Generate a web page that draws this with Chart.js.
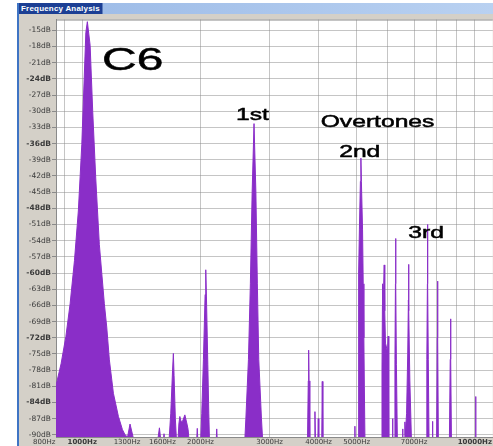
<!DOCTYPE html>
<html>
<head>
<meta charset="utf-8">
<title>Frequency Analysis</title>
<script src="https://cdn.jsdelivr.net/npm/chart.js@4.4.1/dist/chart.umd.min.js"></script>
<style>
    html, body { margin: 0; padding: 0; background: #fff; }
    body { width: 493px; height: 446px; position: relative; overflow: hidden; }
    .frame {
        position: absolute; left: 17px; top: 3px; width: 474px; height: 443px;
        border-left: 2px solid #3f74c4; background: #d4d0c8;
    }
    .titlebar {
        position: absolute; left: 0; top: 0; width: 474px; height: 11px;
        background: linear-gradient(to right, #1c3f94 0px, #1c3f94 83px, #9fbde8 84px, #b9d1f1 100%);
    }
    .titlebar span {
        position: absolute; left: 2px; top: 0px; color: #fff;
        font: bold 8px "Liberation Sans", Arial, sans-serif; letter-spacing: 0.2px; line-height: 11px;
    }
    .chart-box { position: absolute; left: 0; top: 11px; width: 474px; height: 432px; }
</style>
</head>
<body>
<div class="frame">
    <div class="titlebar"><span>Frequency Analysis</span></div>
    <div class="chart-box"><canvas id="spectrum"></canvas></div>
</div>
<script>
// spectrum: frequency (Hz) and level (dB), one group per peak
const freqHz = [
    850, 858, 883, 908, 931, 955, 977, 997, 1011, 1021, 1030, 1047, 1063, 1082, 1105, 1138, 1154, 1172, 1200, 1236, 1265, 1285, 1304, 1323, 1345, 1360,
    1550, 1572, 1590, 1605, 1615, 1625,
    1660, 1680, 1698, 1706, 1713, 1726, 1740,
    1750, 1762, 1772, 1786, 1800, 1825, 1848, 1860, 1875,
    1952, 1963, 1972,
    2000, 2015, 2035, 2055, 2063, 2072, 2088, 2100, 2110,
    2190, 2200, 2210,
    2590, 2610, 2650, 2680, 2708, 2738, 2768, 2792, 2815, 2860, 2885,
    3745, 3764, 3772, 3781, 3798,
    3900, 3914, 3928,
    3978, 3991, 4004,
    4072, 4086, 4100,
    4940, 4948, 4956,
    5040, 5050, 5065, 5080, 5110, 5125, 5140, 5175, 5195, 5215, 5230, 5250,
    5780, 5800, 5815, 5821, 5835, 5855, 5876, 5895, 5920, 5965, 5990, 6015, 6030, 6042,
    6165, 6173, 6181,
    6225, 6258, 6276, 6283, 6291, 6312, 6350,
    6530, 6545, 6560,
    6620, 6634, 6650, 6700, 6745, 6772, 6780, 6790, 6830, 6900,
    7510, 7545, 7570, 7577, 7585, 7610, 7645,
    7790, 7801, 7812,
    7990, 8020, 8035, 8048, 8075,
    8610, 8655, 8673, 8686, 8720,
    10020, 10042, 10065
];
const levelDb = [
    -82, -80.7, -76.8, -71.8, -65.7, -57.7, -48.5, -36.2, -24, -15.4, -13.4, -17.8, -30.1, -42.4, -54.7, -65.7, -70, -76.1, -82.3, -86.6, -89, -90, -90.4, -88, -90.2, -92,
    -92, -88.7, -92, -92, -89.8, -92,
    -92, -86, -78, -74.9, -79, -87, -92,
    -92, -88, -86.6, -87.6, -87.5, -86.3, -88, -89, -92,
    -92, -88.8, -92,
    -92, -86, -76, -64, -59.4, -65, -77, -86, -92,
    -92, -88.9, -92,
    -92, -87, -76, -62, -45, -32.3, -45, -62, -76, -87, -92,
    -92, -80, -74.3, -80, -92,
    -92, -85.7, -92,
    -92, -87, -92,
    -92, -80.1, -92,
    -92, -88.4, -92,
    -92, -80, -60, -52, -43, -38.7, -43, -52, -62, -72, -81, -92,
    -92, -78, -66, -62, -67, -63, -58.5, -67, -73, -74, -75, -71.7, -84, -92,
    -92, -87, -92,
    -92, -76, -62, -53.6, -62, -77, -92,
    -92, -88.9, -92,
    -92, -87.6, -90, -86, -75, -65, -58.4, -67, -80, -92,
    -92, -76, -62, -51, -62, -76, -92,
    -92, -87.5, -92,
    -92, -72, -61.5, -72, -92,
    -92, -76, -68.5, -76, -92,
    -92, -82.9, -92
];

// axis ticks
const yTickDb = [-15, -18, -21, -24, -27, -30, -33, -36, -39, -42, -45, -48, -51, -54, -57, -60, -63, -66, -69, -72, -75, -78, -81, -84, -87, -90];
const xGridHz = [900, 1000, 2000, 3000, 4000, 5000, 6000, 7000, 8000, 9000, 10000];
const xLabelHz = [800, 1000, 1300, 1600, 2000, 3000, 4000, 5000, 7000, 10000];

// text written on the plot, anchored at (Hz, dB)
const noteText = ['C6', '1st', 'Overtones', '2nd', '3rd'];
const noteHz = [1123, 2464, 4048, 4512, 6765];
const noteDb = [-22.4, -31.6, -32.9, -38.4, -53.6];

const purple = 'rgb(138, 46, 200)';
const gridGray = 'rgba(140, 140, 140, 0.5)';

const panelPlugin = {
    id: 'panel',
    beforeDraw(chart) {
        const { ctx, chartArea: a } = chart;
        ctx.save();
        ctx.fillStyle = '#ffffff';
        ctx.fillRect(a.left, a.top, a.right - a.left, a.bottom - a.top);
        ctx.restore();
    },
    afterDraw(chart) {
        const { ctx, chartArea: a } = chart;
        const x = chart.scales.x, y = chart.scales.y;
        ctx.save();
        ctx.strokeStyle = '#8a8a8a';
        ctx.lineWidth = 1;
        ctx.beginPath();
        ctx.moveTo(a.left, a.top + 0.5);
        ctx.lineTo(a.right, a.top + 0.5);
        ctx.stroke();

        // annotations, stretched sideways like the original screenshot
        ctx.fillStyle = '#000';
        ctx.strokeStyle = '#000';
        ctx.lineWidth = 0.5;
        ctx.textBaseline = 'alphabetic';
        noteText.forEach((t, i) => {
            const big = i === 0;
            const px = x.getPixelForValue(noteHz[i]);
            const py = y.getPixelForValue(noteDb[i]);
            ctx.save();
            ctx.translate(px, py);
            ctx.scale(big ? 1.5 : 1.45, 1);
            ctx.font = (big ? 32 : 17) + 'px "Liberation Sans", Arial, sans-serif';
            ctx.fillText(t, 0, 0);
            ctx.strokeText(t, 0, 0);
            ctx.restore();
        });
        ctx.restore();
    }
};

const points = freqHz.map((f, i) => ({ x: f, y: levelDb[i] }));

new Chart(document.getElementById('spectrum'), {
    type: 'line',
    data: {
        datasets: [{
            data: points,
            borderColor: purple,
            backgroundColor: purple,
            borderWidth: 1,
            pointRadius: 0,
            tension: 0,
            fill: 'start',
            clip: 0
        }]
    },
    options: {
        responsive: true,
        maintainAspectRatio: false,
        animation: false,
        layout: { padding: { top: 3, right: 0, left: 0, bottom: 0 } },
        plugins: {
            legend: { display: false },
            tooltip: { enabled: false }
        },
        scales: {
            x: {
                type: 'logarithmic',
                min: 857,
                max: 11110,
                z: 1,
                afterBuildTicks: (scale) => {
                    const all = [...new Set([...xGridHz, ...xLabelHz])].sort((a, b) => a - b);
                    scale.ticks = all.map(v => ({ value: v }));
                },
                afterFit: (scale) => { scale.height = 9; },
                grid: {
                    color: (c) => (c.tick && xGridHz.includes(c.tick.value)) ? gridGray : 'rgba(0,0,0,0)',
                    drawTicks: false
                },
                border: { display: true, color: '#8a8a8a' },
                ticks: {
                    autoSkip: false,
                    maxRotation: 0,
                    padding: 1,
                    color: '#3a3a3a',
                    font: (c) => ({
                        family: 'DejaVu Sans',
                        size: 7,
                        weight: (c.tick && Number.isInteger(Math.log10(c.tick.value))) ? 'bold' : 'normal'
                    }),
                    callback: (v) => xLabelHz.includes(v) ? v + 'Hz' : ''
                }
            },
            y: {
                min: -90.4,
                max: -13,
                z: 1,
                afterBuildTicks: (scale) => {
                    scale.ticks = yTickDb.map(v => ({ value: v }));
                },
                afterFit: (scale) => { scale.width = 37; },
                grid: {
                    color: gridGray,
                    tickColor: '#8a8a8a',
                    tickLength: 4
                },
                border: { display: true, color: '#8a8a8a' },
                ticks: {
                    padding: 1,
                    color: '#3a3a3a',
                    font: (c) => ({
                        family: 'DejaVu Sans',
                        size: 7.5,
                        weight: (c.tick && c.tick.value % 12 === 0) ? 'bold' : 'normal'
                    }),
                    callback: (v) => v + 'dB'
                }
            }
        }
    },
    plugins: [panelPlugin]
});
</script>
</body>
</html>
